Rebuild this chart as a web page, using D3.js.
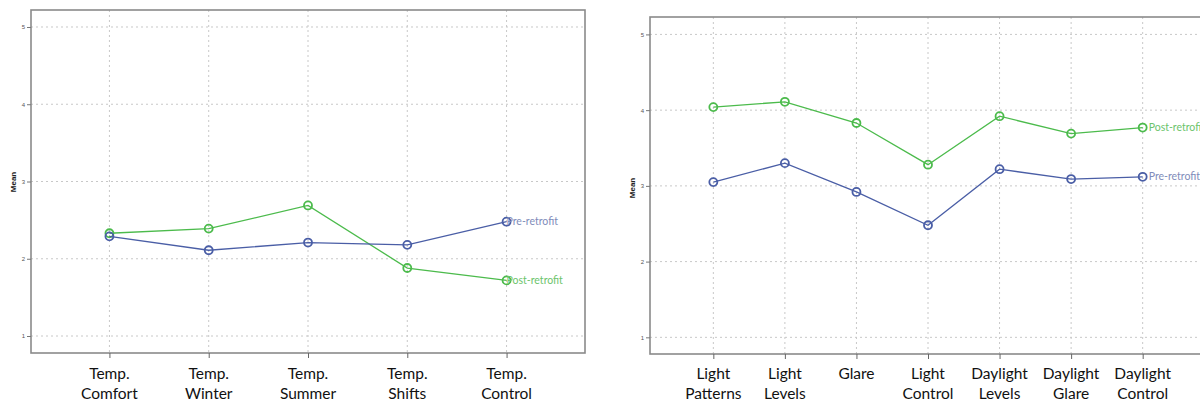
<!DOCTYPE html>
<html><head><meta charset="utf-8">
<script src="https://cdn.jsdelivr.net/npm/d3@7"></script>
<style>body{margin:0;background:#fff;}svg{display:block;}</style>
</head><body>
<svg id="c" width="1200" height="403"></svg>
<script>
// ---- data ----
const tempCategories = [["Temp.","Comfort"],["Temp.","Winter"],["Temp.","Summer"],["Temp.","Shifts"],["Temp.","Control"]];
const tempPre  = [2.29, 2.11, 2.21, 2.18, 2.48];
const tempPost = [2.33, 2.39, 2.69, 1.88, 1.72];

const lightCategories = [["Light","Patterns"],["Light","Levels"],["Glare"],["Light","Control"],["Daylight","Levels"],["Daylight","Glare"],["Daylight","Control"]];
const lightPre  = [3.05, 3.30, 2.92, 2.48, 3.22, 3.09, 3.12];
const lightPost = [4.04, 4.11, 3.83, 3.28, 3.92, 3.69, 3.77];

const yTicks = [1, 2, 3, 4, 5];
const seriesNames = ["Pre-retrofit", "Post-retrofit"];
const yTitle = "Mean";

// ---- styles ----
const blue = "#4a5ea6", green = "#4cbb4c";
const blueLbl = "#7f8cba", greenLbl = "#6cc46c";

const svg = d3.select("#c");

function panel(cfg) {
  const g = svg.append("g");
  const keys = cfg.cats.map((c, i) => i);
  const x = d3.scalePoint().domain(keys).range([cfg.x0, cfg.x1]).padding(cfg.pad);
  const y = d3.scaleLinear().domain(cfg.yDomain).range([cfg.y1, cfg.y0]);

  // grid
  g.selectAll(".hg").data(yTicks).join("line")
    .attr("x1", cfg.x0).attr("x2", cfg.x1)
    .attr("y1", d => y(d)).attr("y2", d => y(d))
    .attr("stroke", "#c8c8c8").attr("stroke-width", 1).attr("stroke-dasharray", "2,3");
  g.selectAll(".vg").data(keys).join("line")
    .attr("x1", d => x(d)).attr("x2", d => x(d))
    .attr("y1", cfg.y0).attr("y2", cfg.y1)
    .attr("stroke", "#c8c8c8").attr("stroke-width", 1).attr("stroke-dasharray", "2,3");

  // frame
  g.append("rect").attr("x", cfg.x0).attr("y", cfg.y0)
    .attr("width", cfg.x1 - cfg.x0).attr("height", cfg.y1 - cfg.y0)
    .attr("fill", "none").attr("stroke", "#8a8a8a").attr("stroke-width", 1.6);

  // y axis
  const ya = d3.axisLeft(y).tickValues(yTicks).tickSize(4).tickPadding(2).tickFormat(d3.format("d"));
  const yg = g.append("g").attr("transform", `translate(${cfg.x0},0)`).call(ya);
  yg.select(".domain").remove();
  yg.selectAll("line").attr("stroke", "#777");
  yg.selectAll("text").attr("font-family", "Liberation Sans, Arial").attr("font-size", 6).attr("fill", "#555");

  // x axis
  const xa = d3.axisBottom(x).tickSize(5).tickFormat("");
  const xg = g.append("g").attr("transform", `translate(0,${cfg.y1})`).call(xa);
  xg.select(".domain").remove();
  xg.selectAll("line").attr("stroke", "#666");

  // x labels
  keys.forEach(k => {
    const t = g.append("text").attr("x", x(k)).attr("y", 379)
      .attr("text-anchor", "middle").attr("font-family", "Lato, sans-serif")
      .attr("font-size", 15.5).attr("fill", "#111");
    cfg.cats[k].forEach((line, j) => {
      t.append("tspan").attr("x", x(k)).attr("dy", j === 0 ? 0 : 20).text(line);
    });
  });

  // y title
  g.append("text").attr("transform", `translate(${cfg.x0 - 15},${cfg.titleY}) rotate(-90)`)
    .attr("text-anchor", "middle").attr("font-family", "Liberation Sans, Arial")
    .attr("font-weight", "bold").attr("font-size", 8).attr("fill", "#222").text(yTitle);

  // series
  const line = d3.line().x((d, i) => x(i)).y(d => y(d));
  [[cfg.post, green, greenLbl, seriesNames[1]], [cfg.pre, blue, blueLbl, seriesNames[0]]].forEach(([vals, col, lc, name]) => {
    g.append("path").datum(vals).attr("d", line).attr("fill", "none")
      .attr("stroke", col).attr("stroke-width", 1.3);
    g.selectAll(null).data(vals).join("circle")
      .attr("cx", (d, i) => x(i)).attr("cy", d => y(d)).attr("r", 4)
      .attr("fill", "none").attr("stroke", col).attr("stroke-width", 1.8);
    const last = vals.length - 1;
    g.append("text").attr("x", x(last) + cfg.lblDx).attr("y", y(vals[last]) + 3.5)
      .attr("font-family", "Lato, sans-serif").attr("font-size", 10.5)
      .attr("fill", lc).text(name);
  });
}

panel({cats: tempCategories, pre: tempPre, post: tempPost,
  x0: 31, x1: 585, y0: 10, y1: 353, pad: 0.79, yDomain: [0.78, 5.22], titleY: 182, lblDx: 0});
panel({cats: lightCategories, pre: lightPre, post: lightPost,
  x0: 650, x1: 1206, y0: 17, y1: 354, pad: 0.885, yDomain: [0.78, 5.23], titleY: 188, lblDx: 6});
</script>
</body></html>
